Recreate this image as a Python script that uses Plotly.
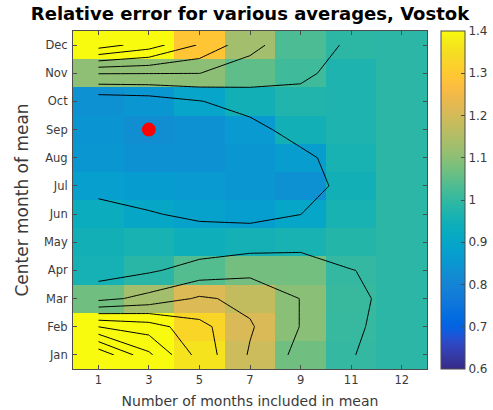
import plotly.graph_objects as go

# Averaging window lengths (months) shown as columns
window_labels = ["1", "3", "5", "7", "9", "11", "12"]
# Centre month of each average (rows, bottom to top)
month_labels = ["Jan", "Feb", "Mar", "Apr", "May", "Jun",
                "Jul", "Aug", "Sep", "Oct", "Nov", "Dec"]

# Relative error, one row per centre month, one value per window length
err_jan = [1.88, 1.62, 1.36, 1.19, 1.07, 1.001, 0.99]
err_feb = [1.50, 1.45, 1.33, 1.21, 1.097, 1.004, 0.99]
err_mar = [1.07, 1.13, 1.214, 1.175, 1.098, 1.0067, 0.99]
err_apr = [0.955, 0.987, 1.039, 1.073, 1.071, 1.001, 0.99]
err_may = [0.95, 0.96, 0.94, 0.953, 0.96, 0.98, 0.99]
err_jun = [0.93, 0.905, 0.886, 0.874, 0.899, 0.96, 0.99]
err_jul = [0.875, 0.866, 0.86, 0.85, 0.836, 0.95, 0.99]
err_aug = [0.85, 0.835, 0.835, 0.85, 0.87, 0.96, 0.99]
err_sep = [0.845, 0.825, 0.835, 0.86, 0.95, 0.97, 0.99]
err_oct = [0.835, 0.85, 0.895, 0.95, 0.975, 0.97, 0.99]
err_nov = [1.105, 1.103, 1.101, 1.05, 1.015, 0.97, 0.99]
err_dec = [1.55, 1.45, 1.29, 1.13, 1.03, 0.991, 0.99]

# Highlighted choice: 3-month mean centred on September
best_window = "3"
best_month = "Sep"

# Colour limits and colourbar labels
clim = (0.6, 1.4)
cbar_ticks = [0.6, 0.7, 0.8, 0.9, 1.0, 1.1, 1.2, 1.3, 1.4]
cbar_text = ["0.6", "0.7", "0.8", "0.9", "1", "1.1", "1.2", "1.3", "1.4"]

# MATLAB parula (64 entries)
parula_rgb = [
    (0.2081, 0.1663, 0.5292), (0.2116, 0.1898, 0.5777), (0.2123, 0.2138, 0.6270),
    (0.2081, 0.2386, 0.6771), (0.1959, 0.2645, 0.7279), (0.1707, 0.2919, 0.7792),
    (0.1253, 0.3242, 0.8303), (0.0591, 0.3598, 0.8683), (0.0117, 0.3875, 0.8820),
    (0.0060, 0.4086, 0.8828), (0.0165, 0.4266, 0.8786), (0.0329, 0.4430, 0.8720),
    (0.0498, 0.4586, 0.8641), (0.0629, 0.4737, 0.8554), (0.0723, 0.4887, 0.8467),
    (0.0779, 0.5040, 0.8384), (0.0793, 0.5200, 0.8312), (0.0749, 0.5375, 0.8263),
    (0.0641, 0.5570, 0.8240), (0.0488, 0.5772, 0.8228), (0.0343, 0.5966, 0.8199),
    (0.0265, 0.6137, 0.8135), (0.0239, 0.6287, 0.8038), (0.0231, 0.6418, 0.7913),
    (0.0228, 0.6535, 0.7768), (0.0267, 0.6642, 0.7607), (0.0384, 0.6743, 0.7436),
    (0.0590, 0.6838, 0.7254), (0.0843, 0.6928, 0.7062), (0.1133, 0.7015, 0.6859),
    (0.1453, 0.7098, 0.6646), (0.1801, 0.7177, 0.6424), (0.2178, 0.7250, 0.6193),
    (0.2586, 0.7317, 0.5954), (0.3022, 0.7376, 0.5712), (0.3482, 0.7424, 0.5473),
    (0.3953, 0.7459, 0.5244), (0.4420, 0.7481, 0.5033), (0.4871, 0.7491, 0.4840),
    (0.5300, 0.7491, 0.4661), (0.5709, 0.7485, 0.4494), (0.6099, 0.7473, 0.4337),
    (0.6473, 0.7456, 0.4188), (0.6834, 0.7435, 0.4044), (0.7184, 0.7411, 0.3905),
    (0.7525, 0.7384, 0.3768), (0.7858, 0.7356, 0.3633), (0.8185, 0.7327, 0.3498),
    (0.8507, 0.7299, 0.3360), (0.8824, 0.7274, 0.3217), (0.9139, 0.7258, 0.3063),
    (0.9450, 0.7261, 0.2886), (0.9739, 0.7314, 0.2666), (0.9938, 0.7455, 0.2403),
    (0.9990, 0.7653, 0.2164), (0.9955, 0.7861, 0.1967), (0.9880, 0.8066, 0.1794),
    (0.9789, 0.8271, 0.1633), (0.9697, 0.8481, 0.1475), (0.9626, 0.8705, 0.1309),
    (0.9589, 0.8949, 0.1132), (0.9598, 0.9218, 0.0948), (0.9661, 0.9514, 0.0755),
    (0.9763, 0.9831, 0.0538),
]
n = len(parula_rgb)
parula = [[i / (n - 1), "rgb(%d,%d,%d)" % tuple(round(c * 255) for c in rgb)]
          for i, rgb in enumerate(parula_rgb)]

z = [err_jan, err_feb, err_mar, err_apr, err_may, err_jun,
     err_jul, err_aug, err_sep, err_oct, err_nov, err_dec]
xpos = list(range(1, len(window_labels) + 1))
ypos = list(range(1, len(month_labels) + 1))

W, H = 493, 410
axis_grey = "#4d4d4d"
text_grey = "#3a3a3a"
font_family = "DejaVu Sans, Verdana, sans-serif"

fig = go.Figure()

fig.add_trace(go.Heatmap(
    z=z, x=xpos, y=ypos, zmin=clim[0], zmax=clim[1],
    colorscale=parula,
    colorbar=dict(
        xref="container", x=441 / W, xanchor="left", xpad=0,
        yref="paper", y=0.5, yanchor="middle", ypad=0,
        len=1.0, lenmode="fraction", thickness=24, thicknessmode="pixels",
        outlinecolor=axis_grey, outlinewidth=1,
        ticks="inside", ticklen=4, tickcolor=axis_grey,
        tickvals=cbar_ticks, ticktext=cbar_text,
        tickfont=dict(size=12, color=text_grey, family=font_family),
    ),
    hoverinfo="skip",
))

fig.add_trace(go.Contour(
    z=z, x=xpos, y=ypos,
    contours=dict(coloring="lines", start=0.9, end=2.0, size=0.1),
    colorscale=[[0, "black"], [1, "black"]],
    line=dict(width=1, smoothing=0),
    showscale=False, hoverinfo="skip",
))

fig.add_trace(go.Scatter(
    x=[window_labels.index(best_window) + 1],
    y=[month_labels.index(best_month) + 1],
    mode="markers",
    marker=dict(size=14, color="#ff0000", line=dict(width=0)),
    showlegend=False, hoverinfo="skip",
))

fig.update_layout(
    width=W, height=H,
    margin=dict(l=73, r=66, t=31, b=41),
    paper_bgcolor="white", plot_bgcolor="white",
    font=dict(family=font_family, color=text_grey),
    title=dict(
        text="<b>Relative error for various averages, Vostok</b>",
        font=dict(size=18, color="black", family=font_family),
        x=0.5, xref="paper", xanchor="center",
        y=1 - 14 / H, yref="container", yanchor="middle",
    ),
    showlegend=False,
)

fig.update_xaxes(
    range=[0.5, len(window_labels) + 0.5],
    tickvals=xpos, ticktext=window_labels,
    ticks="inside", ticklen=4, tickcolor=axis_grey,
    showline=True, linecolor=axis_grey, linewidth=1, mirror="ticks",
    showgrid=False, zeroline=False, automargin=False,
    tickfont=dict(size=11.5, color=text_grey),
    title=dict(text="Number of months included in mean",
               font=dict(size=14, color=text_grey), standoff=10),
)
fig.update_yaxes(
    range=[0.5, len(month_labels) + 0.5],
    tickvals=ypos, ticktext=month_labels,
    ticks="inside", ticklen=4, tickcolor=axis_grey,
    showline=True, linecolor=axis_grey, linewidth=1, mirror="ticks",
    showgrid=False, zeroline=False, ticklabelstandoff=2, automargin=False,
    tickfont=dict(size=11.5, color=text_grey),
    title=dict(text="Center month of mean",
               font=dict(size=17, color=text_grey), standoff=10),
)

fig.write_html("out.html")
